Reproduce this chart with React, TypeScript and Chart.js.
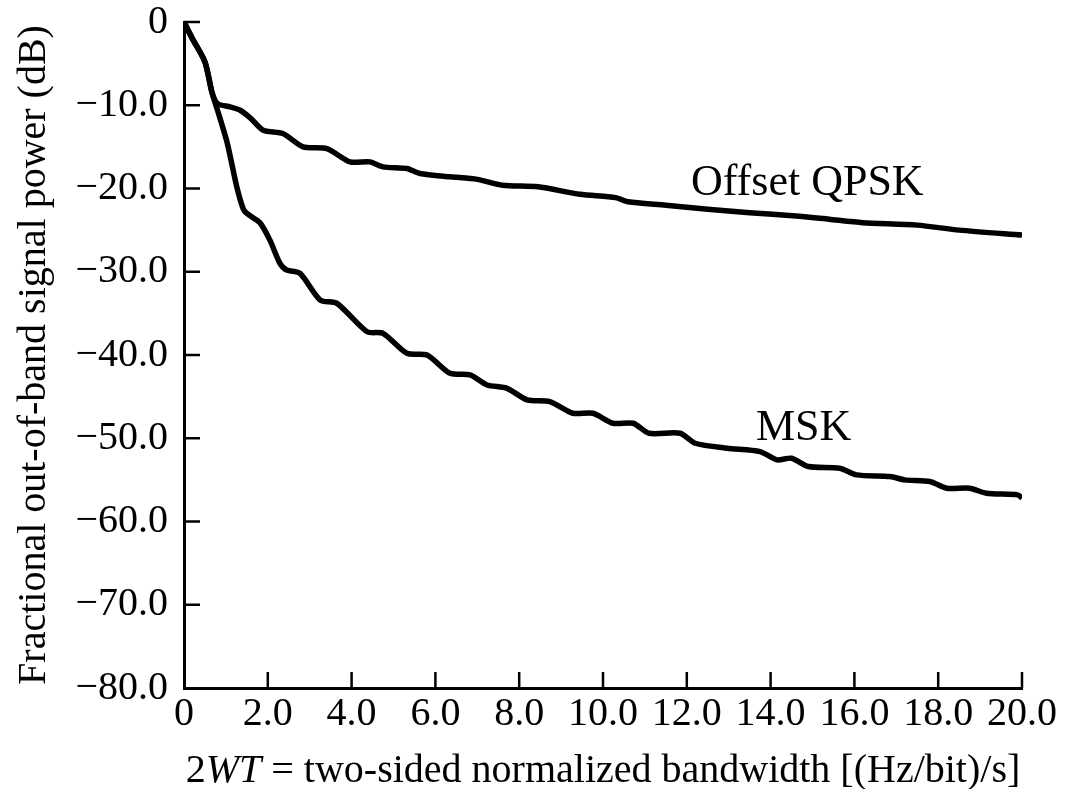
import React, { useEffect, useRef } from "react";
import { Chart, registerables } from "chart.js";

Chart.register(...registerables);

// Offset QPSK curve (2WT, dB)
const qpskX = [0, 0.2, 0.5, 0.67, 0.8, 1.1, 1.34, 1.6, 1.89, 2.36, 2.84, 3.41, 3.96, 4.44, 4.75, 5.32, 5.63, 6.35, 7.0, 7.6, 8.45, 9.45, 10.3, 10.6, 11.5, 12.5, 13.5, 14.6, 15.4, 16.2, 17.5, 18.5, 20];
const qpskDb = [0, -2.0, -4.8, -8.5, -9.8, -10.2, -10.6, -11.6, -13.0, -13.4, -15.0, -15.2, -16.8, -16.8, -17.4, -17.6, -18.2, -18.6, -18.9, -19.6, -19.8, -20.7, -21.1, -21.6, -22.0, -22.5, -22.9, -23.3, -23.7, -24.1, -24.4, -25.0, -25.6];

// MSK curve (2WT, dB)
const mskX = [0, 0.2, 0.5, 0.67, 0.8, 1.03, 1.26, 1.41, 1.5, 1.81, 2.05, 2.29, 2.45, 2.77, 3.25, 3.65, 4.37, 4.75, 5.32, 5.8, 6.35, 6.83, 7.23, 7.71, 8.19, 8.73, 9.28, 9.76, 10.24, 10.72, 11.1, 11.84, 12.2, 12.96, 13.75, 14.15, 14.5, 14.9, 15.65, 16.05, 16.85, 17.2, 17.8, 18.2, 18.75, 19.15, 19.9, 20];
const mskDb = [0, -2.0, -4.8, -8.5, -10.6, -14.5, -19.8, -22.4, -23.0, -24.1, -26.2, -29.0, -29.8, -30.2, -33.4, -33.8, -37.2, -37.4, -39.8, -40.0, -42.2, -42.4, -43.6, -44.0, -45.4, -45.6, -47.0, -47.0, -48.2, -48.2, -49.4, -49.4, -50.6, -51.2, -51.6, -52.6, -52.4, -53.4, -53.6, -54.4, -54.6, -55.0, -55.2, -56.0, -56.0, -56.6, -56.8, -57.2];

// Curve labels and their anchor (data coordinates: 2WT, dB)
const curveLabels = ["Offset QPSK", "MSK"];
const curveLabelX = [12.1, 13.65];
const curveLabelDb = [-20.8, -50.2];

const yTitle = "Fractional out-of-band signal power (dB)";
const xTitleParts = [
  { text: "2", italic: false },
  { text: "WT", italic: true },
  { text: " = two-sided normalized bandwidth [(Hz/bit)/s]", italic: false },
];

const FONT = "'Liberation Serif', 'Times New Roman', serif";

const toPoints = (xs: number[], ys: number[]) => xs.map((x, i) => ({ x, y: ys[i] }));

const inwardTicks = {
  id: "inwardTicks",
  afterDraw(chart: any) {
    const ctx = chart.ctx;
    const xs = chart.scales.x;
    const ys = chart.scales.y;
    const len = 16;
    const w = 2.5;
    ctx.save();
    ctx.fillStyle = "#000";
    xs.ticks.forEach((t: any) => {
      if (t.value === 0) return;
      const px = xs.getPixelForValue(t.value);
      ctx.fillRect(px - w / 2, xs.top - len, w, len);
    });
    ys.ticks.forEach((t: any) => {
      if (t.value === -80) return;
      const py = ys.getPixelForValue(t.value);
      ctx.fillRect(ys.right, py - w / 2, len, w);
    });

    // curve labels
    ctx.font = `44px ${FONT}`;
    ctx.textBaseline = "alphabetic";
    ctx.textAlign = "left";
    curveLabels.forEach((lab, i) => {
      ctx.fillText(lab, xs.getPixelForValue(curveLabelX[i]), ys.getPixelForValue(curveLabelDb[i]));
    });

    // x-axis title with italic WT
    const size = 40;
    const widths = xTitleParts.map((p) => {
      ctx.font = `${p.italic ? "italic " : ""}${size}px ${FONT}`;
      return ctx.measureText(p.text).width;
    });
    const total = widths.reduce((a, b) => a + b, 0);
    const cx = (chart.chartArea.left + chart.chartArea.right) / 2;
    let x = cx - total / 2;
    const baseY = 782;
    xTitleParts.forEach((p, i) => {
      ctx.font = `${p.italic ? "italic " : ""}${size}px ${FONT}`;
      ctx.fillText(p.text, x, baseY);
      x += widths[i];
    });
    ctx.restore();
  },
};

export default function App() {
  const ref = useRef<HTMLCanvasElement | null>(null);
  useEffect(() => {
    if (!ref.current) return;
    const chart = new Chart(ref.current, {
      type: "line",
      data: {
        datasets: [
          {
            label: "Offset QPSK",
            data: toPoints(qpskX, qpskDb),
            borderColor: "#000",
            borderWidth: 5.5,
            pointRadius: 0,
            tension: 0.25,
            fill: false,
          },
          {
            label: "MSK",
            data: toPoints(mskX, mskDb),
            borderColor: "#000",
            borderWidth: 5.5,
            pointRadius: 0,
            tension: 0.25,
            fill: false,
          },
        ],
      },
      options: {
        animation: false,
        responsive: true,
        maintainAspectRatio: false,
        layout: { padding: { top: 22, right: 52, left: 0, bottom: 0 } },
        plugins: { legend: { display: false }, tooltip: { enabled: false } },
        scales: {
          x: {
            type: "linear",
            min: 0,
            max: 20,
            grid: { display: false, drawTicks: false },
            border: { display: true, color: "#000", width: 3 },
            ticks: {
              stepSize: 2,
              color: "#000",
              padding: 6,
              maxRotation: 0,
              autoSkip: false,
              font: { family: FONT, size: 40, lineHeight: 1 },
              callback: (v: any) => (Number(v) === 0 ? "0" : Number(v).toFixed(1)),
            },
            afterFit: (s: any) => {
              s.height = 101;
              s.paddingLeft = 0;
              s.paddingRight = 0;
            },
          },
          y: {
            type: "linear",
            min: -80,
            max: 0,
            grid: { display: false, drawTicks: false },
            border: { display: true, color: "#000", width: 3 },
            title: {
              display: true,
              text: yTitle,
              color: "#000",
              font: { family: FONT, size: 40, lineHeight: 1.2 },
              padding: { top: 10, bottom: 0 },
            },
            ticks: {
              stepSize: 10,
              color: "#000",
              padding: 16,
              autoSkip: false,
              font: { family: FONT, size: 40, lineHeight: 1 },
              callback: (v: any) => (Number(v) === 0 ? "0" : "\u2212" + Math.abs(Number(v)).toFixed(1)),
            },
            afterFit: (s: any) => {
              s.width = 184;
              s.paddingTop = 0;
              s.paddingBottom = 0;
            },
          },
        },
      },
      plugins: [inwardTicks],
    });
    return () => chart.destroy();
  }, []);
  return (
    <div style={{ position: "fixed", left: 0, top: 0, width: 1074, height: 789, background: "#fff" }}>
      <canvas ref={ref} />
    </div>
  );
}
